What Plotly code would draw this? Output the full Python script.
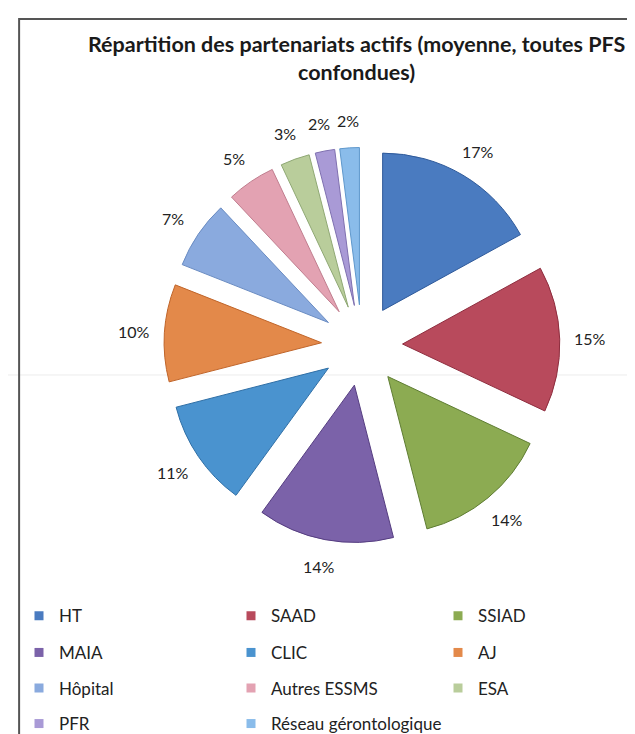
import numpy as np
import plotly.graph_objects as go

categories = ["HT", "SAAD", "SSIAD", "MAIA", "CLIC", "AJ", "Hôpital",
              "Autres ESSMS", "ESA", "PFR", "Réseau gérontologique"]
values = [17, 15, 14, 14, 11, 10, 7, 5, 3, 2, 2]
colors = ["#4a7bc0", "#b84a5c", "#8cab52", "#7b62a9", "#4a93cf", "#e3894a",
          "#8aaade", "#e3a2b2", "#b9cd9b", "#a99ad6", "#8abcea"]
edge_colors = ["#2f5a9a", "#8e2d3e", "#5f7d33", "#553d80", "#2f6fa6", "#c0652a",
               "#6a8cc2", "#c07d8e", "#8fa874", "#7f70b0", "#5f98cc"]
legend_rows = [0, 0, 0, 1, 1, 1, 2, 2, 2, 3, 3]
legend_cols = [0, 1, 2, 0, 1, 2, 0, 1, 2, 0, 1]

FONT = "Lato"
W, H = 635, 734
PULL = 0.258
DOM_X = [0.2425, 0.8724]
DOM_Y = [0.2629, 0.8079]
LABEL_DIST = 1.14  # label distance relative to the outer (pulled) radius

fig = go.Figure()
fig.add_trace(go.Pie(
    labels=categories, values=values, sort=False, direction="clockwise",
    rotation=0, pull=PULL, showlegend=False, textinfo="none",
    marker=dict(colors=colors, line=dict(color=edge_colors, width=1)),
    domain=dict(x=DOM_X, y=DOM_Y),
    hoverinfo="label+percent",
))

# percentage labels placed around the pie from the slice mid-angles
vals = np.array(values, dtype=float)
frac = vals / vals.sum()
mid = (np.cumsum(frac) - frac / 2) * 2 * np.pi
cx = (DOM_X[0] + DOM_X[1]) / 2
cy = (DOM_Y[0] + DOM_Y[1]) / 2
outer_px = min((DOM_X[1] - DOM_X[0]) * W, (DOM_Y[1] - DOM_Y[0]) * H) / 2
annotations = []
for f, a in zip(frac, mid):
    rr = outer_px * LABEL_DIST
    annotations.append(dict(
        x=cx + rr * np.sin(a) / W, y=cy + rr * np.cos(a) / H,
        xref="paper", yref="paper", showarrow=False,
        text=f"{round(f * 100):.0f}%", xanchor="center", yanchor="middle",
        font=dict(family=FONT, size=16, color="#222222"),
    ))

legend_names = ["legend"] + [f"legend{i}" for i in range(2, len(categories) + 1)]
for lname, name, color in zip(legend_names, categories, colors):
    fig.add_trace(go.Scatter(
        x=[None], y=[None], mode="markers", name=name,
        marker=dict(symbol="square", size=9, color=color),
        legend=lname, showlegend=True,
    ))

col_x = [11 / W, 223 / W, 430 / W]
row_y = [1 - 615 / H, 1 - 652 / H, 1 - 688 / H, 1 - 724 / H]
layout_legends = {}
for lname, r, c in zip(legend_names, legend_rows, legend_cols):
    layout_legends[lname] = dict(
        orientation="h", x=col_x[c], xanchor="left", y=row_y[r], yanchor="middle",
        font=dict(family=FONT, size=17, color="#222222"),
        bgcolor="rgba(0,0,0,0)", itemclick=False)

fig.update_layout(
    width=W, height=H,
    margin=dict(l=0, r=0, t=0, b=0),
    paper_bgcolor="white", plot_bgcolor="white",
    xaxis=dict(visible=False), yaxis=dict(visible=False),
    title=dict(text="Répartition des partenariats actifs (moyenne, toutes PFS<br>confondues)",
               x=0.549, xanchor="center", y=0.94, yanchor="top",
               font=dict(family=FONT, size=21.5, color="#1a1a1a", weight="bold")),
    annotations=annotations,
    shapes=[
        dict(type="line", xref="paper", yref="paper", x0=0, x1=1,
             y0=1 - 371 / H, y1=1 - 371 / H, line=dict(color="#ececec", width=1),
             layer="below"),
        dict(type="rect", xref="paper", yref="paper",
             x0=0.0175, x1=1.02, y0=-0.02, y1=0.985,
             line=dict(color="#555555", width=2), fillcolor="rgba(0,0,0,0)"),
    ],
    **layout_legends,
)

fig.write_html("out.html")
